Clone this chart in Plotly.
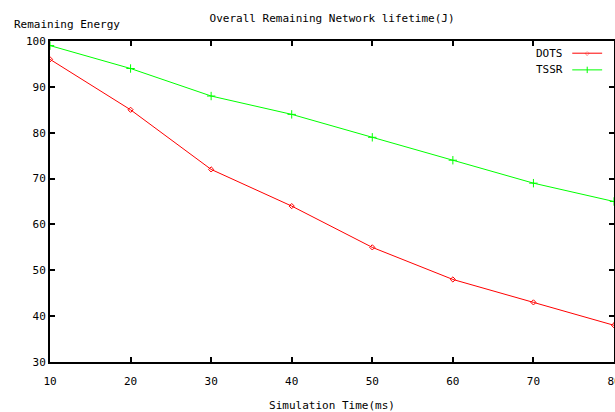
import plotly.graph_objects as go

time_ms = [10, 20, 30, 40, 50, 60, 70, 80]
dots = [96, 85, 72, 64, 55, 48, 43, 38]
tssr = [99, 94, 88, 84, 79, 74, 69, 65]
x_ticks = [10, 20, 30, 40, 50, 60, 70, 80]
y_ticks = [30, 40, 50, 60, 70, 80, 90, 100]

FONT = "DejaVu Sans Mono"
fig = go.Figure()
fig.add_trace(go.Scatter(x=time_ms, y=dots, mode="lines+markers", name="DOTS",
                         line=dict(color="#ff0000", width=1),
                         marker=dict(symbol="diamond-open", size=4, color="#ff0000")))
fig.add_trace(go.Scatter(x=time_ms, y=tssr, mode="lines+markers", name="TSSR",
                         line=dict(color="#00ff00", width=1),
                         marker=dict(symbol="cross-thin-open", size=6, color="#00ff00",
                                     line=dict(width=1, color="#00ff00"))))

axis_common = dict(showgrid=False, zeroline=False, showline=True, linecolor="black",
                   linewidth=2, mirror="ticks", ticks="inside", ticklen=5, tickwidth=2,
                   tickcolor="black", automargin=False,
                   tickfont=dict(family=FONT, size=11, color="black"))
fig.update_xaxes(range=[10, 80], tickvals=x_ticks, ticklabelstandoff=8,
                 ticklabeloverflow="allow", **axis_common,
                 title=dict(text="Simulation Time(ms)", font=dict(family=FONT, size=11, color="black"), standoff=14))
fig.update_yaxes(range=[30, 100], tickvals=y_ticks, **axis_common)

# legend drawn gnuplot style (text left of sample)
legend_rows = [("DOTS", "#ff0000", 0.962), ("TSSR", "#00ff00", 0.91)]
for name, color, yp in legend_rows:
    fig.add_annotation(x=0.913, y=yp, xref="paper", yref="paper", text=name, showarrow=False,
                       xanchor="right", yanchor="middle", font=dict(family=FONT, size=11, color="black"))
    fig.add_shape(type="line", xref="paper", yref="paper", x0=0.926, x1=0.979, y0=yp, y1=yp,
                  line=dict(color=color, width=1))
# legend sample point marks
fig.add_annotation(x=0.9525, y=0.962, xref="paper", yref="paper", text="◇", showarrow=False,
                   xanchor="center", yanchor="middle", font=dict(size=6, color="#ff0000"))
fig.add_shape(type="line", xref="paper", yref="paper", x0=0.9525, x1=0.9525, y0=0.9, y1=0.92,
              line=dict(color="#00ff00", width=1))

fig.add_annotation(x=-0.068, y=1.025, xref="paper", yref="paper", text="Remaining Energy",
                   showarrow=False, xanchor="left", yanchor="bottom",
                   font=dict(family=FONT, size=11, color="black"))

fig.update_layout(
    width=615, height=412,
    margin=dict(l=50, r=1, t=41, b=50),
    paper_bgcolor="white", plot_bgcolor="white",
    showlegend=False,
    title=dict(text="Overall Remaining Network lifetime(J)", x=0.54, xanchor="center",
               y=0.957, yanchor="middle", font=dict(family=FONT, size=11, color="black")),
)
fig.write_html("out.html")
